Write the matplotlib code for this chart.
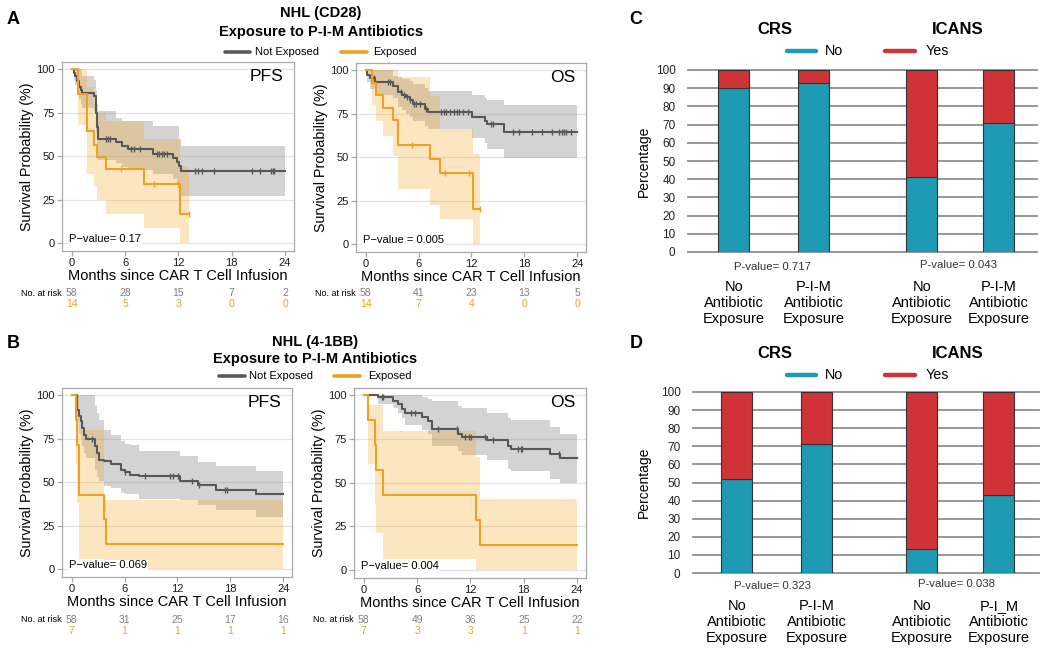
import matplotlib
matplotlib.use('Agg')
import matplotlib.pyplot as plt
import numpy as np
from matplotlib.lines import Line2D
from matplotlib import transforms

plt.rcParams['font.family'] = ['Liberation Sans', 'DejaVu Sans']

# ---------------- DATA ----------------
# Panel A (CD28) PFS
a_pfs_ne_t = [0, 0.2, 0.4, 0.6, 0.8, 1.0, 1.2, 2.5, 2.7, 2.85, 3.0, 5.0, 5.7, 6.3, 9.1, 11.4, 11.8, 12.1, 12.3]
a_pfs_ne_s = [100, 98, 96, 93, 90, 88, 86.5, 84.5, 75, 67, 60, 58, 56, 54, 51.5, 49, 46.7, 44.3, 41.6]
a_pfs_ne_up = [100, 100, 100, 100, 100, 100, 96, 94, 88, 80, 76, 72, 70, 70, 67.5, 67.5, 67.5, 60, 56]
a_pfs_ne_lo = [100, 94, 91, 87, 83, 80, 78, 76, 64, 56, 48, 46, 44, 42, 40, 37, 34, 30, 27]
a_pfs_ne_cens = [3.9, 4.1, 4.3, 6.65, 7.0, 7.7, 9.6, 9.85, 10.15, 10.4, 10.7, 13.9, 14.25, 14.7, 16.05, 20.3, 21.2, 22.4, 22.6, 22.8]
a_pfs_e_t = [0, 0.7, 1.7, 2.45, 2.8, 3.83, 8.1, 12.2]
a_pfs_e_s = [100, 85.7, 64.3, 56.3, 49.6, 42.5, 33.9, 16.7]
a_pfs_e_up = [100, 100, 90, 80, 75, 70, 60, 44]
a_pfs_e_lo = [100, 68, 40, 33, 25, 17, 9, 0]
a_pfs_e_cens = [5.5, 9.2, 12.0, 13.2]

# Panel A (CD28) OS
a_os_ne_t = [0, 0.2, 0.5, 1.1, 3.1, 3.65, 4.15, 4.6, 5.0, 5.4, 6.7, 7.07, 12.07, 13.5, 13.8, 15.7]
a_os_ne_s = [100, 97.5, 95.5, 93, 91, 87.5, 86, 84.5, 83, 80.5, 78, 76, 73.2, 71, 69, 64.8]
a_os_ne_up = [100, 100, 100, 100, 97, 96, 95, 95, 94, 92, 90, 88, 86, 84, 83, 80]
a_os_ne_lo = [100, 93, 89, 86, 84, 79, 77, 75, 73, 71, 68, 66, 61, 58, 55, 49.3]
a_os_ne_cens = [0.94, 2.56, 2.75, 4.06, 4.33, 4.7, 5.0, 5.45, 5.76, 6.2, 6.8, 8.58, 8.88, 9.14, 9.59, 9.97,
                10.35, 10.57, 11.02, 11.59, 14.22, 14.48, 16.67, 17.42, 18.92, 20.05, 21.18, 21.93, 22.31,
                22.5, 22.69, 23.25]
a_os_e_t = [0, 0.68, 1.13, 1.92, 3.12, 3.61, 7.33, 8.38, 12.14]
a_os_e_s = [100, 92.9, 85.7, 78.6, 71.4, 57.1, 49.0, 40.8, 20.4]
a_os_e_up = [100, 100, 100, 100, 100, 96, 85, 66, 52]
a_os_e_lo = [100, 80, 71, 62, 51, 31.5, 22.6, 14.3, 0]
a_os_e_cens = [5.26, 9.0, 11.77, 12.97]

# Panel B (4-1BB) PFS
b_pfs_ne_t = [0, 0.64, 0.82, 1.0, 1.2, 1.39, 1.65, 2.7, 2.89, 3.15, 3.64, 4.5, 5.62, 6.07, 6.64, 7.65, 12.26, 14.3, 16.4, 20.9]
b_pfs_ne_s = [100, 91.8, 88, 85, 81, 77.4, 75, 70.7, 66.9, 63, 62, 60.5, 57.3, 56, 54.4, 53.4, 50.6, 48.3, 45.8, 43.5]
b_pfs_ne_up = [100, 100, 100, 100, 100, 100, 100, 94, 90, 86, 80, 77, 74, 72, 71.6, 67.8, 65, 61.7, 59.4, 56.7]
b_pfs_ne_lo = [100, 84, 78, 75, 71, 67, 64, 57, 53, 50.6, 48, 46.7, 44, 43, 43, 40.6, 40, 37, 34.3, 29.9]
b_pfs_ne_cens = [2.3, 6.1, 8.3, 11.15, 11.45, 12.07, 13.7, 14.5, 17.4, 17.6]
b_pfs_e_t = [0, 0.45, 0.64, 0.82, 3.7, 3.9]
b_pfs_e_s = [100, 85.7, 71.4, 42.9, 28.6, 14.3]
b_pfs_e_up = [100, 100, 100, 80, 40, 40]
b_pfs_e_lo = [100, 60, 38, 6, 0, 0]
b_pfs_e_cens = []

# Panel B (4-1BB) OS
b_os_ne_t = [0, 1.62, 3.3, 3.87, 4.25, 4.62, 6.5, 7.26, 7.63, 10.64, 11.0, 13.83, 16.28, 16.58, 20.98, 22.1]
b_os_ne_s = [100, 99, 97, 94.8, 92.4, 90, 87.8, 85.3, 80.5, 77.7, 76.1, 74.2, 71, 69.5, 66.2, 63.9]
b_os_ne_up = [100, 100, 100, 100, 100, 100, 99, 98, 97, 94, 93, 90, 87, 86, 82, 77.7]
b_os_ne_lo = [100, 95, 93, 90, 87, 83, 80, 77.7, 71, 68, 66, 63, 58, 57, 52, 49.6]
b_os_ne_cens = [2.0, 2.2, 5.3, 5.75, 8.3, 10.5, 11.4, 11.8, 12.1, 13.6, 14.5, 17.4, 17.65, 17.85, 22.0]
b_os_e_t = [0, 0.49, 1.24, 1.43, 2.18, 12.63, 13.08]
b_os_e_s = [100, 85.7, 71.4, 57.1, 42.9, 28.6, 14.3]
b_os_e_up = [100, 94.5, 94.5, 94.5, 79.6, 65, 40.5]
b_os_e_lo = [100, 60.5, 38, 21, 6.5, 0, 0]
b_os_e_cens = []

# Follow-up end (months) of each curve
a_pfs_end = [24, 13.2]
a_os_end = [24, 12.97]
b_pfs_end = [24, 24]
b_os_end = [24, 24]

# Number at risk
risk_times = [0, 6, 12, 18, 24]
a_pfs_risk_ne = [58, 28, 15, 7, 2]
a_pfs_risk_e = [14, 5, 3, 0, 0]
a_os_risk_ne = [58, 41, 23, 13, 5]
a_os_risk_e = [14, 7, 4, 0, 0]
b_pfs_risk_ne = [58, 31, 25, 17, 16]
b_pfs_risk_e = [7, 1, 1, 1, 1]
b_os_risk_ne = [58, 49, 36, 25, 22]
b_os_risk_e = [7, 3, 3, 1, 1]

km_pvalues = ["P\u2212value= 0.17", "P\u2212value = 0.005", "P\u2212value= 0.069", "P\u2212value= 0.004"]

# Bar charts (percentages)
bar_labels_c = ["No\nAntibiotic\nExposure", "P-I-M\nAntibiotic\nExposure",
                "No\nAntibiotic\nExposure", "P-I-M\nAntibiotic\nExposure"]
bar_labels_d = ["No\nAntibiotic\nExposure", "P-I-M\nAntibiotic\nExposure",
                "No\nAntibiotic\nExposure", "P-I_M\nAntibiotic\nExposure"]
c_no = [90, 93, 41, 71]
c_yes = [10, 7, 59, 29]
d_no = [52, 71, 13, 43]
d_yes = [48, 29, 87, 57]
c_pvalues = ["P-value= 0.717", "P-value= 0.043"]
d_pvalues = ["P-value= 0.323", "P-value= 0.038"]

# ---------------- STYLE ----------------
W, H = 1050, 655
GRAY = '#585858'
ORANGE = '#F0A020'
GRAY_BAND = '#8c8c8c'
ORANGE_BAND = '#F5A623'
TEAL = '#1F9AB5'
RED = '#D13438'

fig = plt.figure(figsize=(W / 100, H / 100), dpi=100)


def px_axes(l, t, r, b):
    return fig.add_axes([l / W, 1 - b / H, (r - l) / W, (b - t) / H])


def ftext(x, y, s, **kw):
    return fig.text(x / W, 1 - y / H, s, **kw)


def fline(x0, x1, y, color, lw=2.6):
    fig.add_artist(Line2D([x0 / W, x1 / W], [1 - y / H, 1 - y / H], color=color, lw=lw,
                          solid_capstyle='round', transform=fig.transFigure))


def step_val(t, s, x):
    idx = np.searchsorted(np.asarray(t), np.asarray(x, dtype=float), side='right') - 1
    return np.asarray(s)[idx]


def km_panel(ax, curves, ends, label, pval, risk_ne, risk_e, risk_y):
    # bands first
    for (t, s, up, lo, cens), tend, col, bcol, alp in zip(curves, ends, [GRAY, ORANGE],
                                                         [GRAY_BAND, ORANGE_BAND], [0.38, 0.28]):
        te = np.append(t, tend)
        ax.fill_between(te, np.append(lo, lo[-1]), np.append(up, up[-1]), step='post',
                        color=bcol, alpha=alp, lw=0, zorder=1)
    for (t, s, up, lo, cens), tend, col in zip(curves, ends, [GRAY, ORANGE]):
        te = np.append(t, tend)
        se = np.append(s, s[-1])
        ax.step(te, se, where='post', color=col, lw=1.5, zorder=3)
        if len(cens):
            ax.plot(cens, step_val(t, s, cens), ls='none', marker='|', ms=5, mew=1.0,
                    color=col, zorder=4)
    ax.set_xlim(-1.1, 25)
    ax.set_ylim(-4.5, 104.2)
    ax.set_xticks([0, 6, 12, 18, 24])
    ax.set_yticks([0, 25, 50, 75, 100])
    ax.yaxis.grid(True, color='#e4e4e4', lw=0.9)
    ax.set_axisbelow(True)
    for sp in ax.spines.values():
        sp.set_color('#a8a8a8')
        sp.set_linewidth(0.9)
    ax.tick_params(colors='#a8a8a8', labelcolor='#1a1a1a', labelsize=8, length=3.5, width=0.9, pad=1.5)
    ax.set_xlabel('Months since CAR T Cell Infusion', fontsize=10.5, labelpad=0.5)
    ax.set_ylabel('Survival Probability (%)', fontsize=10.3, labelpad=2)
    ax.text(0.953, 0.965, label, transform=ax.transAxes, ha='right', va='top', fontsize=12.6)
    ax.text(0.03, 2.3, pval, transform=transforms.blended_transform_factory(ax.transAxes, ax.transData),
            ha='left', va='center', fontsize=8,
            bbox=dict(facecolor='white', edgecolor='none', pad=0.5), zorder=5)
    tr = transforms.blended_transform_factory(ax.transData, fig.transFigure)
    for xv, n1, n2 in zip(risk_times, risk_ne, risk_e):
        ax.text(xv, 1 - risk_y / H, str(n1), transform=tr, ha='center', va='center',
                fontsize=7.5, color='#7f7f7f', clip_on=False)
        ax.text(xv, 1 - (risk_y + 11) / H, str(n2), transform=tr, ha='center', va='center',
                fontsize=7.5, color=ORANGE, clip_on=False)
    x0 = ax.transData.transform((0, 0))[0]
    fig.text((x0 - 10) / W, 1 - risk_y / H, 'No. at risk', ha='right', va='center', fontsize=6.5)


# ---------------- KM panels ----------------
ax_a1 = px_axes(62, 62, 294, 251)
ax_a2 = px_axes(356, 63, 586, 252)
ax_b1 = px_axes(62, 388, 292, 577)
ax_b2 = px_axes(354, 388, 586, 578)

km_panel(ax_a1,
         [(a_pfs_ne_t, a_pfs_ne_s, a_pfs_ne_up, a_pfs_ne_lo, a_pfs_ne_cens),
          (a_pfs_e_t, a_pfs_e_s, a_pfs_e_up, a_pfs_e_lo, a_pfs_e_cens)],
         a_pfs_end, 'PFS', km_pvalues[0], a_pfs_risk_ne, a_pfs_risk_e, 293)
km_panel(ax_a2,
         [(a_os_ne_t, a_os_ne_s, a_os_ne_up, a_os_ne_lo, a_os_ne_cens),
          (a_os_e_t, a_os_e_s, a_os_e_up, a_os_e_lo, a_os_e_cens)],
         a_os_end, 'OS', km_pvalues[1], a_os_risk_ne, a_os_risk_e, 293)
km_panel(ax_b1,
         [(b_pfs_ne_t, b_pfs_ne_s, b_pfs_ne_up, b_pfs_ne_lo, b_pfs_ne_cens),
          (b_pfs_e_t, b_pfs_e_s, b_pfs_e_up, b_pfs_e_lo, b_pfs_e_cens)],
         b_pfs_end, 'PFS', km_pvalues[2], b_pfs_risk_ne, b_pfs_risk_e, 620)
km_panel(ax_b2,
         [(b_os_ne_t, b_os_ne_s, b_os_ne_up, b_os_ne_lo, b_os_ne_cens),
          (b_os_e_t, b_os_e_s, b_os_e_up, b_os_e_lo, b_os_e_cens)],
         b_os_end, 'OS', km_pvalues[3], b_os_risk_ne, b_os_risk_e, 620)

# titles & legends of KM
ftext(321, 13, 'NHL (CD28)', ha='center', va='center', fontsize=10.5, fontweight='bold')
ftext(321, 32, 'Exposure to P-I-M Antibiotics', ha='center', va='center', fontsize=10.5, fontweight='bold')
fline(225, 250, 52, GRAY)
ftext(255, 52, 'Not Exposed', ha='left', va='center', fontsize=8)
fline(341, 367, 52, ORANGE)
ftext(373, 52, 'Exposed', ha='left', va='center', fontsize=8)

ftext(315, 342, 'NHL (4-1BB)', ha='center', va='center', fontsize=10.5, fontweight='bold')
ftext(315, 359, 'Exposure to P-I-M Antibiotics', ha='center', va='center', fontsize=10.5, fontweight='bold')
fline(219, 245, 376, GRAY)
ftext(249, 376, 'Not Exposed', ha='left', va='center', fontsize=8)
fline(334, 360, 376, ORANGE)
ftext(368, 376, 'Exposed', ha='left', va='center', fontsize=8)

for lab, x, y in [('A', 13, 19), ('B', 13, 343), ('C', 636, 19), ('D', 636, 343)]:
    ftext(x, y, lab, ha='center', va='center', fontsize=13, fontweight='bold')


# ---------------- Bar panels ----------------
def bar_panel(box, centers, no_vals, yes_vals, labels, pvals, title_y, leg_y, p_y, lab_y, pcenters):
    l, t, r, b = box
    ax = px_axes(l, t, r, b)
    ax.set_xlim(l, r)
    ax.set_ylim(0, 100)
    for v in range(0, 101, 10):
        ax.axhline(v, color='#8f8f8f', lw=1.3, zorder=0, clip_on=False)
    ax.bar(centers, no_vals, width=31, color=TEAL, edgecolor='#333333', lw=0.8, zorder=2)
    ax.bar(centers, yes_vals, bottom=no_vals, width=31, color=RED, edgecolor='#333333', lw=0.8, zorder=2)
    for sp in ax.spines.values():
        sp.set_visible(False)
    ax.set_xticks([])
    ax.set_yticks(range(0, 101, 10))
    ax.tick_params(axis='y', length=0, labelsize=8.5, labelcolor='#222222', pad=9)
    ftext(644, (t + b) / 2, 'Percentage', rotation=90, ha='center', va='center', fontsize=10)
    ftext(775, title_y, 'CRS', ha='center', va='center', fontsize=12, fontweight='bold')
    ftext(958, title_y, 'ICANS', ha='center', va='center', fontsize=12, fontweight='bold')
    fline(787, 816, leg_y, TEAL, lw=3.2)
    ftext(825, leg_y, 'No', ha='left', va='center', fontsize=10.3)
    fline(885, 915, leg_y, RED, lw=3.2)
    ftext(926, leg_y, 'Yes', ha='left', va='center', fontsize=10.3)
    for s, (pcx, pyy) in zip(pvals, zip(pcenters, p_y)):
        ftext(pcx, pyy, s, ha='center', va='center', fontsize=8.2, color='#333333')
    for s, cx in zip(labels, centers):
        ftext(cx + 1, lab_y, s, ha='center', va='center', fontsize=10.5, linespacing=1.2)
    return ax


bar_panel((688, 70, 1037, 252), [733, 813, 921, 998], c_no, c_yes, bar_labels_c, c_pvalues,
          29, 51, [267, 265], 303, [772, 958])
bar_panel((693, 392, 1039, 573), [736, 816, 921, 998], d_no, d_yes, bar_labels_d, d_pvalues,
          353, 375, [586, 584], 622, [772, 957])

fig.savefig('out.png', dpi=100)
